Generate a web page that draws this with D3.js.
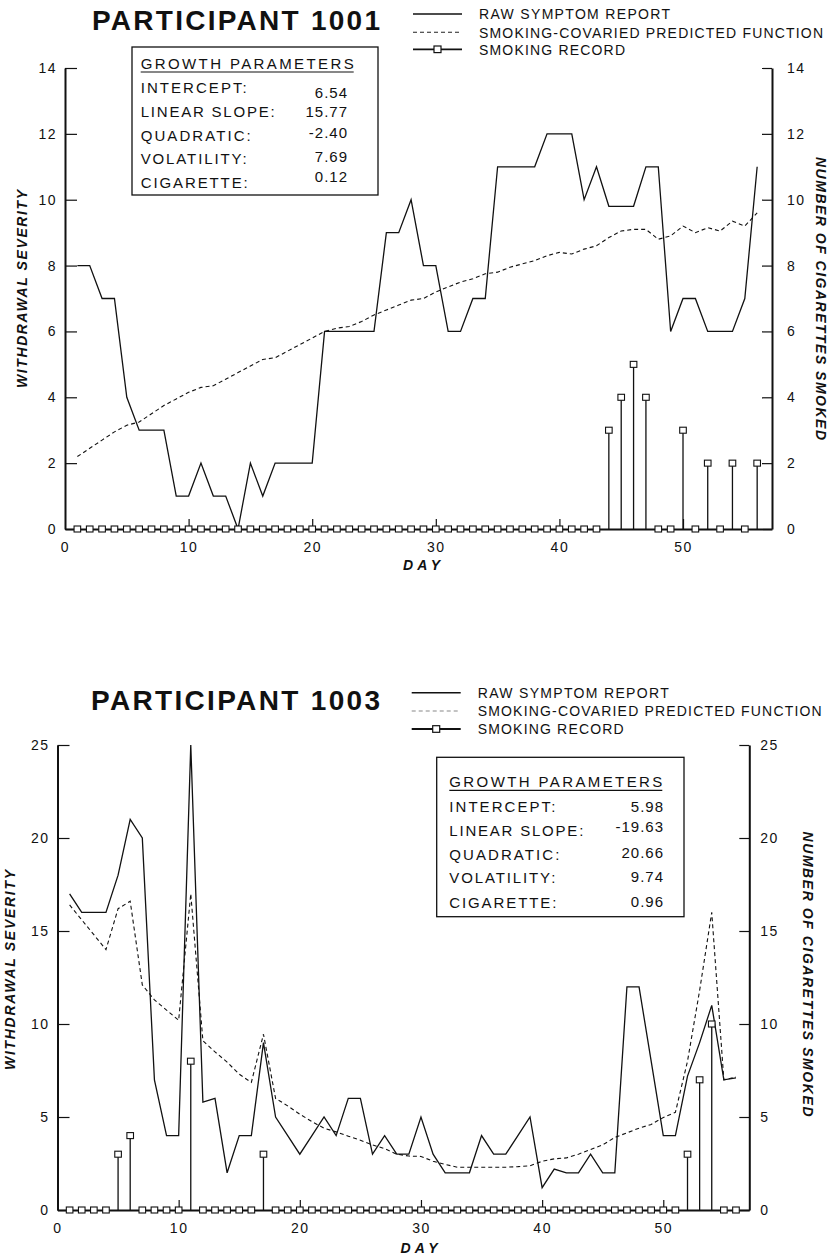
<!DOCTYPE html>
<html lang="en">
<head>
<meta charset="UTF-8">
<title>Participant 1001 / 1003</title>
<script src="https://d3js.org/d3.v7.min.js"></script>
<style>
    body { margin: 0; background: #fff; }
    svg text { font-family: "Liberation Sans", Arial, sans-serif; fill: #111; }
    .axis path { stroke: #111; stroke-width: 2; }
    .axis line { stroke: #111; stroke-width: 1.2; }
    .axis text { font-size: 14px; letter-spacing: 1.5px; }
    .title { font-size: 28px; font-weight: bold; }
    .legend text { font-size: 14px; }
    .box text { font-size: 15px; }
    .axis-title { font-size: 14px; font-weight: bold; font-style: italic; }
</style>
</head>
<body>
<script>
    // participant 1001, days 1..56
    const raw1001 = [8, 8, 7, 7, 4, 3, 3, 3, 1, 1,
                     2, 1, 1, 0, 2, 1, 2, 2, 2, 2,
                     6, 6, 6, 6, 6, 9, 9, 10, 8, 8,
                     6, 6, 7, 7, 11, 11, 11, 11, 12, 12,
                     12, 10, 11, 9.8, 9.8, 9.8, 11, 11, 6, 7,
                     7, 6, 6, 6, 7, 11];
    const pred1001 = [2.2, 2.45, 2.7, 2.95, 3.15, 3.25, 3.5, 3.75, 3.95, 4.15,
                      4.3, 4.35, 4.55, 4.75, 4.95, 5.15, 5.2, 5.4, 5.6, 5.8,
                      6.0, 6.1, 6.15, 6.3, 6.5, 6.65, 6.8, 6.95, 7.0, 7.2,
                      7.35, 7.5, 7.6, 7.75, 7.8, 7.95, 8.05, 8.15, 8.3, 8.4,
                      8.35, 8.5, 8.6, 8.85, 9.05, 9.1, 9.1, 8.8, 8.9, 9.2,
                      9.0, 9.15, 9.05, 9.35, 9.2, 9.6];
    const smoke1001 = [0, 0, 0, 0, 0, 0, 0, 0, 0, 0,
                       0, 0, 0, 0, 0, 0, 0, 0, 0, 0,
                       0, 0, 0, 0, 0, 0, 0, 0, 0, 0,
                       0, 0, 0, 0, 0, 0, 0, 0, 0, 0,
                       0, 0, 0, 3, 4, 5, 4, 0, 0, 3,
                       0, 2, 0, 2, 0, 2];

    // participant 1003, days 1..56
    const raw1003 = [17, 16, 16, 16, 18, 21, 20, 7, 4, 4,
                     25, 5.8, 6, 2, 4, 4, 9, 5, 4, 3,
                     4, 5, 4, 6, 6, 3, 4, 3, 3, 5,
                     3, 2, 2, 2, 4, 3, 3, 4, 5, 1.2,
                     2.2, 2, 2, 3, 2, 2, 12, 12, 8, 4,
                     4, 7.2, 9, 11, 7, 7.1];
    const pred1003 = [16.4, 15.6, 14.8, 14.0, 16.2, 16.6, 12.1, 11.3, 10.75, 10.2,
                      17.0, 9.1, 8.5, 7.95, 7.3, 6.86, 9.45, 6.0, 5.6, 5.15,
                      4.75, 4.4, 4.2, 3.97, 3.75, 3.5, 3.3, 3.0, 2.9, 2.88,
                      2.62, 2.45, 2.3, 2.3, 2.3, 2.3, 2.3, 2.33, 2.38, 2.62,
                      2.75, 2.8, 3.0, 3.25, 3.5, 3.9, 4.15, 4.4, 4.6, 4.97,
                      5.25, 8.0, 11.8, 16.0, 7.0, 7.15];
    const smoke1003 = [0, 0, 0, 0, 3, 4, 0, 0, 0, 0,
                       8, 0, 0, 0, 0, 0, 3, 0, 0, 0,
                       0, 0, 0, 0, 0, 0, 0, 0, 0, 0,
                       0, 0, 0, 0, 0, 0, 0, 0, 0, 0,
                       0, 0, 0, 0, 0, 0, 0, 0, 0, 0,
                       0, 3, 7, 10, 0, 0];

    const paramNames = ["INTERCEPT:", "LINEAR SLOPE:", "QUADRATIC:", "VOLATILITY:", "CIGARETTE:"];
    const params1001 = ["6.54", "15.77", "-2.40", "7.69", "0.12"];
    const params1003 = ["5.98", "-19.63", "20.66", "9.74", "0.96"];
    const legendLabels = ["RAW SYMPTOM REPORT", "SMOKING-COVARIED PREDICTED FUNCTION", "SMOKING RECORD"];
    const dayTicks = [0, 10, 20, 30, 40, 50];
    const ticks1001 = [0, 2, 4, 6, 8, 10, 12, 14];
    const ticks1003 = [0, 5, 10, 15, 20, 25];

    const svg = d3.select("body").append("svg")
        .attr("width", 829)
        .attr("height", 1256);

    const panels = [
        {
            title: "PARTICIPANT 1001", titleX: 92, titleY: 30, titleW: 288,
            raw: raw1001, pred: pred1001, smoke: smoke1001, params: params1001,
            xMax: 57.2, xRange: [65, 772], yMax: 14, yRange: [529, 68], yTicks: ticks1001,
            leftPad: 8, rightPad: 15, bottomPad: 13,
            legendX: 413, legendYs: [14, 32.3, 49.3], predLegendColor: "#222",
            box: { x: 132, y: 47, w: 246, h: 148, labelX: 140.7, valueR: 348, titleY: 69,
                   labelYs: [93.3, 116.7, 140.7, 164.3, 188.3], valueYs: [98.3, 116.7, 138.3, 162.3, 181.7] },
            leftTitle: { x: 22, y: 289, len: 198 }, rightTitle: { x: 821, y: 298.5, len: 283 },
            day: { x: 421.5, y: 570 }
        },
        {
            title: "PARTICIPANT 1003", titleX: 91, titleY: 710, titleW: 289,
            raw: raw1003, pred: pred1003, smoke: smoke1003, params: params1003,
            xMax: 57.1, xRange: [57.5, 749.3], yMax: 25, yRange: [1210, 745], yTicks: ticks1003,
            leftPad: 8, rightPad: 11, bottomPad: 13,
            legendX: 411.7, legendYs: [692.7, 711, 729], predLegendColor: "#888",
            box: { x: 436.7, y: 757.3, w: 247.3, h: 159.4, labelX: 449.3, valueR: 664, titleY: 787.3,
                   labelYs: [811.7, 836, 860, 883.3, 907.7], valueYs: [811.7, 831.7, 858.3, 881.7, 906.7] },
            leftTitle: { x: 10, y: 970, len: 200 }, rightTitle: { x: 808, y: 974, len: 285 },
            day: { x: 419, y: 1253 }
        }
    ];

    const labelWidths = [106, 134, 110, 106, 107];

    panels.forEach(p => drawPanel(p));

    function drawPanel(p) {
        const x = d3.scaleLinear().domain([0, p.xMax]).range(p.xRange);
        const y = d3.scaleLinear().domain([0, p.yMax]).range(p.yRange);
        const g = svg.append("g");

        // titolo
        g.append("text").attr("class", "title")
            .attr("x", p.titleX).attr("y", p.titleY)
            .attr("textLength", p.titleW).attr("lengthAdjust", "spacing")
            .text(p.title);

        // legenda
        const leg = g.append("g").attr("class", "legend");
        const lx0 = p.legendX, lx1 = p.legendX + 49;
        leg.append("line").attr("x1", lx0).attr("x2", lx1)
            .attr("y1", p.legendYs[0]).attr("y2", p.legendYs[0])
            .attr("stroke", "#111").attr("stroke-width", 1.6);
        leg.append("line").attr("x1", lx0).attr("x2", lx1)
            .attr("y1", p.legendYs[1]).attr("y2", p.legendYs[1])
            .attr("stroke", p.predLegendColor).attr("stroke-width", 1.1)
            .attr("stroke-dasharray", "4,3");
        leg.append("line").attr("x1", lx0).attr("x2", lx1)
            .attr("y1", p.legendYs[2]).attr("y2", p.legendYs[2])
            .attr("stroke", "#111").attr("stroke-width", 1.8);
        leg.append("rect").attr("x", (lx0 + lx1) / 2 - 3.5).attr("y", p.legendYs[2] - 3.3)
            .attr("width", 7).attr("height", 6.6)
            .attr("fill", "#fff").attr("stroke", "#111").attr("stroke-width", 1.2);
        const legW = [191, 344, 146];
        leg.selectAll("text.lab").data(legendLabels).join("text")
            .attr("class", "lab")
            .attr("x", p.legendX + 66)
            .attr("y", (d, i) => p.legendYs[i] + 5.2)
            .attr("textLength", (d, i) => legW[i]).attr("lengthAdjust", "spacing")
            .text(d => d);

        // assi
        g.append("g").attr("class", "axis")
            .attr("transform", `translate(${p.xRange[0]},0)`)
            .call(d3.axisLeft(y).tickValues(p.yTicks).tickSizeInner(-12).tickSizeOuter(0).tickPadding(p.leftPad));
        g.append("g").attr("class", "axis")
            .attr("transform", `translate(${p.xRange[1]},0)`)
            .call(d3.axisRight(y).tickValues(p.yTicks).tickSizeInner(-10).tickSizeOuter(0).tickPadding(p.rightPad));
        const xAxis = g.append("g").attr("class", "axis")
            .attr("transform", `translate(0,${p.yRange[0]})`)
            .call(d3.axisBottom(x).tickValues(dayTicks).tickSizeInner(-10).tickSizeOuter(0).tickPadding(p.bottomPad));
        xAxis.selectAll(".tick line").filter(d => d === 0).remove();

        // titoli degli assi
        g.append("text").attr("class", "axis-title")
            .attr("transform", `translate(${p.leftTitle.x},${p.leftTitle.y}) rotate(-90)`)
            .attr("text-anchor", "middle").attr("dy", "0.35em")
            .attr("textLength", p.leftTitle.len).attr("lengthAdjust", "spacing")
            .text("WITHDRAWAL SEVERITY");
        g.append("text").attr("class", "axis-title")
            .attr("transform", `translate(${p.rightTitle.x},${p.rightTitle.y}) rotate(90)`)
            .attr("text-anchor", "middle").attr("dy", "0.35em")
            .attr("textLength", p.rightTitle.len).attr("lengthAdjust", "spacing")
            .text("NUMBER OF CIGARETTES SMOKED");
        g.append("text").attr("class", "axis-title")
            .attr("x", p.day.x).attr("y", p.day.y)
            .attr("text-anchor", "middle")
            .attr("textLength", 37).attr("lengthAdjust", "spacing")
            .text("DAY");

        // riquadro dei parametri
        const b = p.box;
        const box = g.append("g").attr("class", "box");
        box.append("rect").attr("x", b.x).attr("y", b.y).attr("width", b.w).attr("height", b.h)
            .attr("fill", "#fff").attr("stroke", "#111").attr("stroke-width", 1.3);
        box.append("text").attr("x", b.labelX).attr("y", b.titleY)
            .attr("textLength", 213).attr("lengthAdjust", "spacing")
            .text("GROWTH PARAMETERS");
        box.append("line").attr("x1", b.labelX).attr("x2", b.labelX + 213)
            .attr("y1", b.titleY + 3).attr("y2", b.titleY + 3)
            .attr("stroke", "#111").attr("stroke-width", 1.2);
        box.selectAll("text.pname").data(paramNames).join("text")
            .attr("class", "pname")
            .attr("x", b.labelX).attr("y", (d, i) => b.labelYs[i])
            .attr("textLength", (d, i) => labelWidths[i]).attr("lengthAdjust", "spacing")
            .text(d => d);
        box.selectAll("text.pval").data(p.params).join("text")
            .attr("class", "pval")
            .attr("x", b.valueR).attr("y", (d, i) => b.valueYs[i])
            .attr("text-anchor", "end")
            .style("letter-spacing", "1px")
            .text(d => d);

        // dati
        const line = d3.line().x((d, i) => x(i + 1)).y(d => y(d));
        g.append("path").datum(p.pred)
            .attr("d", line)
            .attr("fill", "none").attr("stroke", "#111").attr("stroke-width", 1.1)
            .attr("stroke-dasharray", "4,3");
        g.append("path").datum(p.raw)
            .attr("d", line)
            .attr("fill", "none").attr("stroke", "#111").attr("stroke-width", 1.3)
            .attr("stroke-linejoin", "miter");

        const smokeData = p.smoke.map((v, i) => ({ day: i + 1, v: v }));
        g.selectAll("line.stem").data(smokeData.filter(d => d.v > 0)).join("line")
            .attr("class", "stem")
            .attr("x1", d => x(d.day)).attr("x2", d => x(d.day))
            .attr("y1", y(0)).attr("y2", d => y(d.v))
            .attr("stroke", "#111").attr("stroke-width", 1.3);
        g.selectAll("rect.sq").data(smokeData).join("rect")
            .attr("class", "sq")
            .attr("x", d => x(d.day) - 3.3).attr("y", d => y(d.v) - 3)
            .attr("width", 6.6).attr("height", 6)
            .attr("fill", "#fff").attr("stroke", "#111").attr("stroke-width", 1.1);
    }
</script>
</body>
</html>
